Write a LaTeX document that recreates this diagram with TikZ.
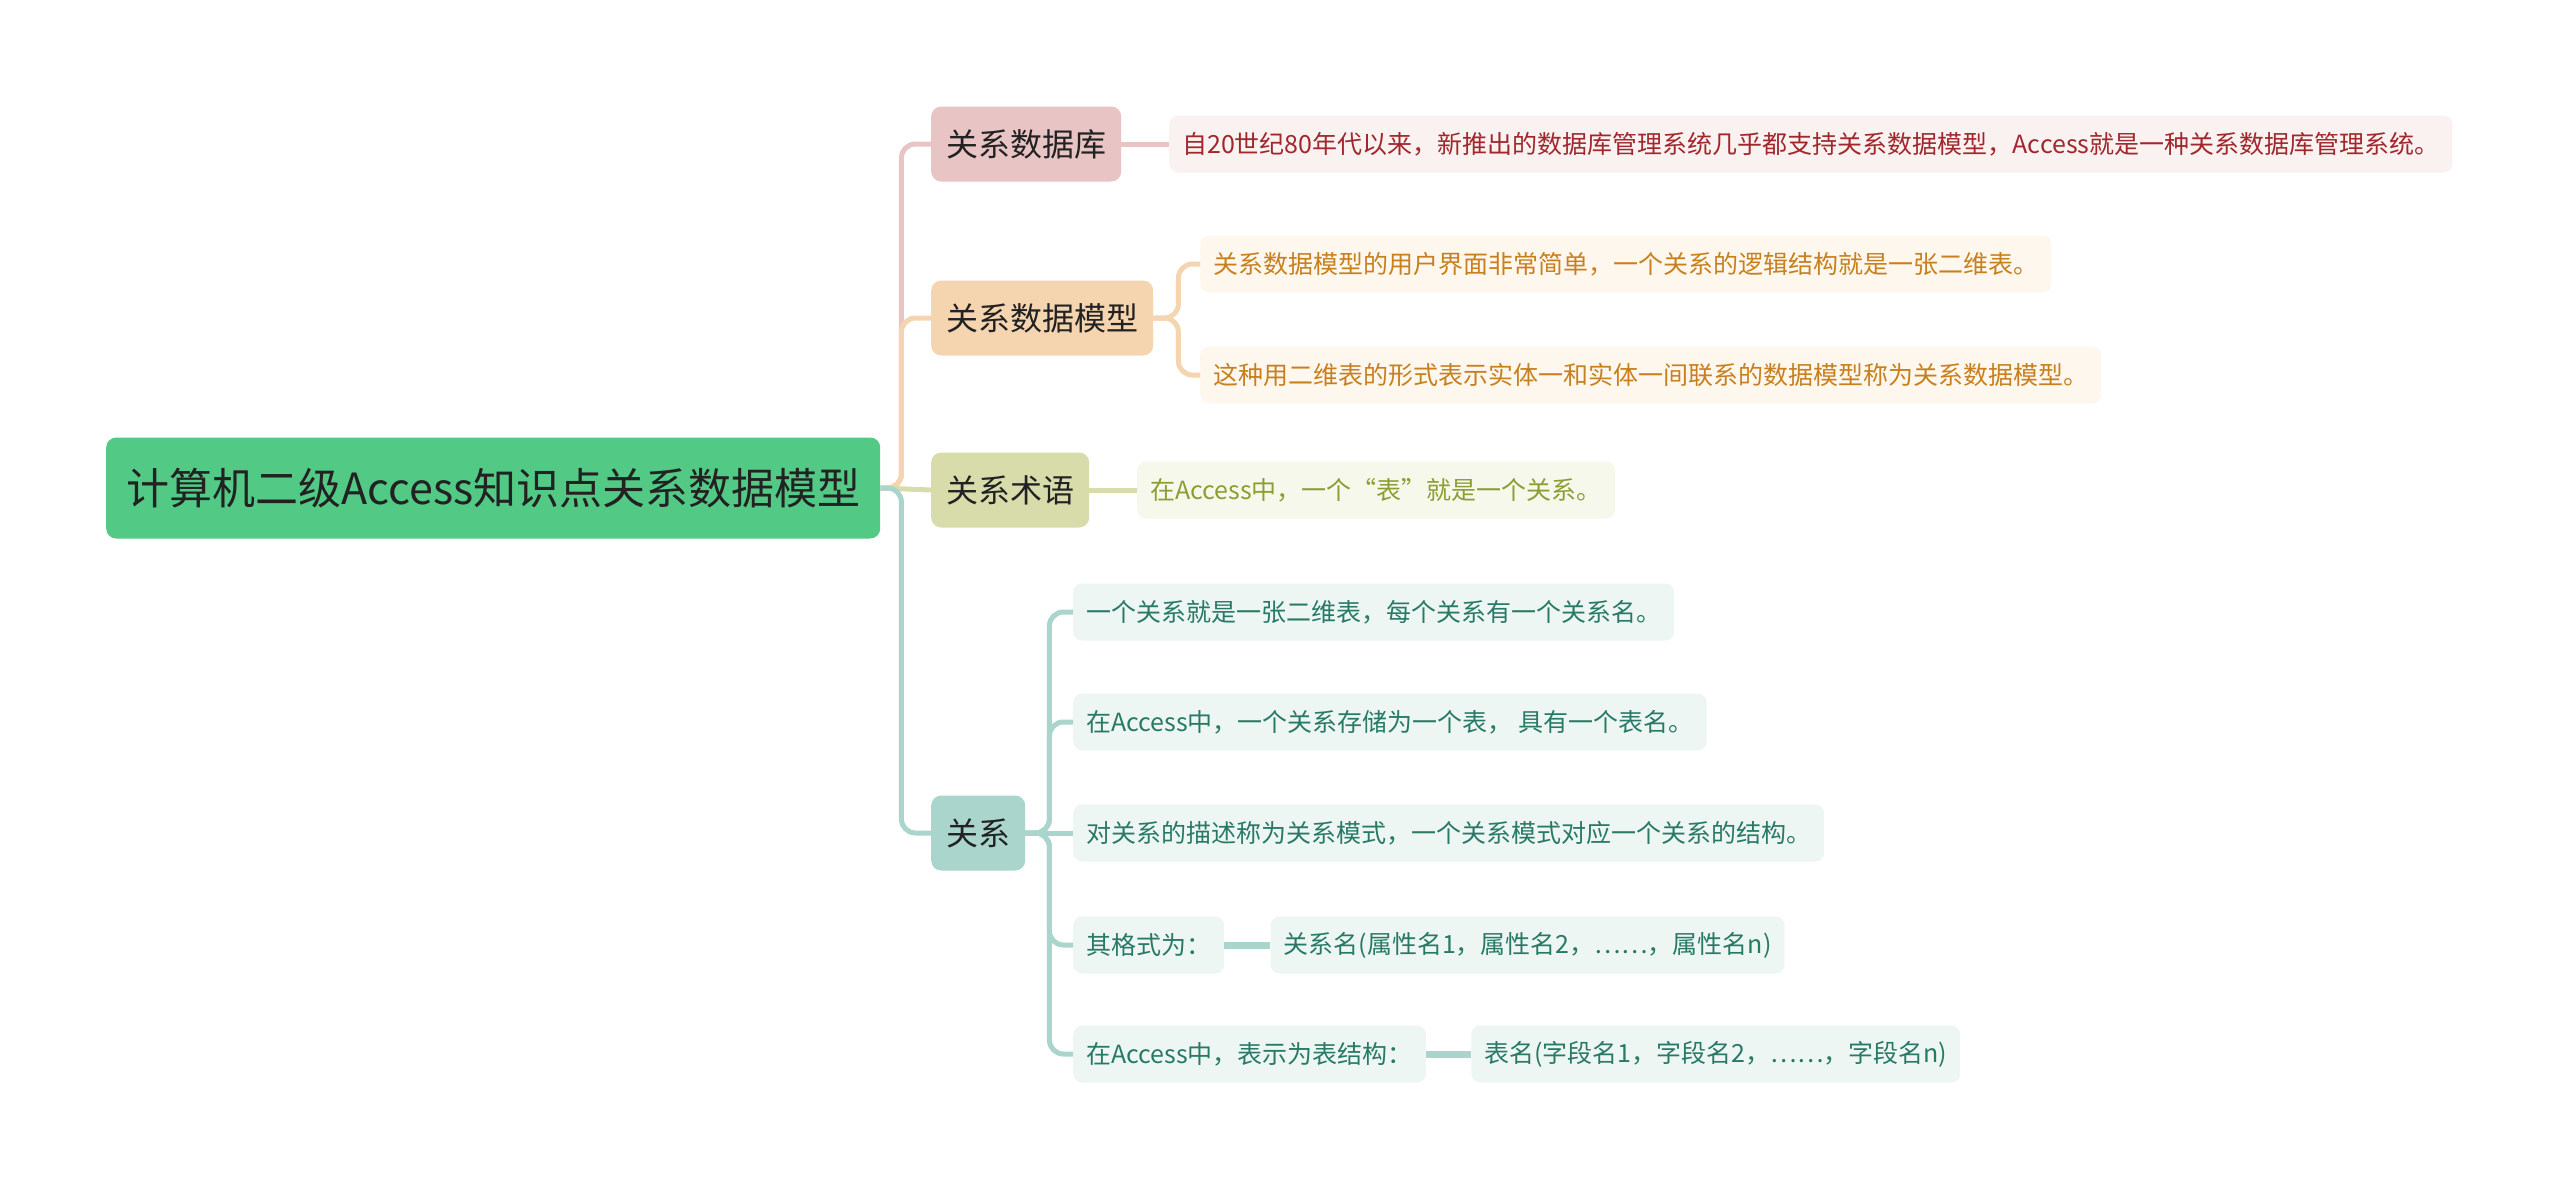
\documentclass[tikz,border=0pt]{standalone}
\usepackage{fontspec}
\setmainfont{Noto Sans CJK SC}
\usepackage{xcolor}
\usepackage{tikz}
\usetikzlibrary{positioning, calc}
\definecolor{rootgreen}{RGB}{83,201,134}
\definecolor{inkdark}{RGB}{34,34,34}
\definecolor{dbpink}{RGB}{232,196,196}
\definecolor{dbleaf}{RGB}{250,241,241}
\definecolor{dbtext}{RGB}{160,40,45}
\definecolor{mdpeach}{RGB}{245,213,176}
\definecolor{mdleaf}{RGB}{254,247,238}
\definecolor{mdtext}{RGB}{200,128,30}
\definecolor{tmolive}{RGB}{216,220,171}
\definecolor{tmleaf}{RGB}{247,248,236}
\definecolor{tmtext}{RGB}{140,158,50}
\definecolor{rlteal}{RGB}{169,213,204}
\definecolor{rlleaf}{RGB}{238,246,244}
\definecolor{rltext}{RGB}{40,122,102}

\begin{document}
\begin{tikzpicture}[x=1pt, y=-1pt,
    rootbox/.style={rectangle, rounded corners=10pt, fill=rootgreen, text=inkdark,
                    font=\fontsize{43}{50}\selectfont, minimum height=101pt,
                    inner xsep=20pt, anchor=west},
    topic/.style={rectangle, rounded corners=10pt, text=inkdark,
                  font=\fontsize{32}{38}\selectfont, minimum height=75pt,
                  inner xsep=15pt, anchor=west},
    leaf/.style={rectangle, rounded corners=9pt, font=\fontsize{25}{30}\selectfont,
                 minimum height=57pt, inner xsep=13pt, anchor=west},
    link/.style={line width=5pt, rounded corners=14pt}]

\fill[white] (0,0) rectangle (2560,1189);
\useasboundingbox (0,0) rectangle (2560,1189);

\node (root)  [rootbox] at (106,488) {计算机二级Access知识点关系数据模型};

\node (db)    [topic, fill=dbpink]  at (931,144) {关系数据库};
\node (model) [topic, fill=mdpeach] at (931,318) {关系数据模型};
\node (term)  [topic, fill=tmolive] at (931,490) {关系术语};
\node (rel)   [topic, fill=rlteal]  at (931,833) {关系};

\node (dbA)   [leaf, fill=dbleaf, text=dbtext] at (1169,144)
    {自20世纪80年代以来，新推出的数据库管理系统几乎都支持关系数据模型，Access就是一种关系数据库管理系统。};
\node (mdA)   [leaf, fill=mdleaf, text=mdtext] at (1200,264)
    {关系数据模型的用户界面非常简单，一个关系的逻辑结构就是一张二维表。};
\node (mdB)   [leaf, fill=mdleaf, text=mdtext] at (1200,375)
    {这种用二维表的形式表示实体一和实体一间联系的数据模型称为关系数据模型。};
\node (tmA)   [leaf, fill=tmleaf, text=tmtext] at (1137,490)
    {在Access中，一个“表”就是一个关系。};

\node (rlA)   [leaf, fill=rlleaf, text=rltext] at (1073,612) {一个关系就是一张二维表，每个关系有一个关系名。};
\node (rlB)   [leaf, fill=rlleaf, text=rltext] at (1073,722) {在Access中，一个关系存储为一个表， 具有一个表名。};
\node (rlC)   [leaf, fill=rlleaf, text=rltext] at (1073,833) {对关系的描述称为关系模式，一个关系模式对应一个关系的结构。};
\node (rlD)   [leaf, fill=rlleaf, text=rltext] at (1073,945) {其格式为：};
\node (rlE)   [leaf, fill=rlleaf, text=rltext] at (1073,1054) {在Access中，表示为表结构：};
\node (rlDx)  [leaf, fill=rlleaf, text=rltext, right=46pt of rlD] {关系名(属性名1，属性名2，……，属性名n)};
\node (rlEx)  [leaf, fill=rlleaf, text=rltext, right=45pt of rlE] {表名(字段名1，字段名2，……，字段名n)};

% root to topics
\draw [link, dbpink]  (root.east) -- ++(21,0) |- (db.west);
\draw [link, mdpeach] (root.east) -- ++(21,0) |- (model.west);
\draw [link, tmolive] (root.east) -- (term.west);
\draw [link, rlteal]  (root.east) -- ++(21,0) |- (rel.west);

% topics to leaves
\draw [link, dbpink]  (db.east) -- (dbA.west);
\draw [link, mdpeach] (model.east) -- ++(25,0) |- (mdA.west);
\draw [link, mdpeach] (model.east) -- ++(25,0) |- (mdB.west);
\draw [link, tmolive] (term.east) -- (tmA.west);
\foreach \n in {rlA, rlB, rlD, rlE}
  \draw [link, rlteal] (rel.east) -- ++(24,0) |- (\n.west);
\draw [link, rlteal] (rel.east) -- (rlC.west);
\draw [link, rlteal, line width=7pt] (rlD.east) -- (rlDx.west);
\draw [link, rlteal, line width=7pt] (rlE.east) -- (rlEx.west);
\end{tikzpicture}
\end{document}
